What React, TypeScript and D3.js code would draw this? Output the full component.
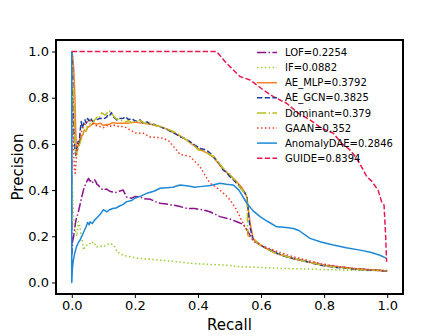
import React, { useEffect, useRef } from "react";
import * as d3 from "d3";

// ---- [recall, precision] points ----
const lofCurve: [number, number][] = [
  [0, 1.0], [0, 0.12], [0.003, 0.18], [0.006, 0.2], [0.008, 0.22], [0.012, 0.26], [0.015, 0.28], [0.02, 0.3],
  [0.025, 0.33], [0.03, 0.36], [0.037, 0.4], [0.045, 0.43], [0.053, 0.451], [0.057, 0.44], [0.06, 0.44],
  [0.064, 0.43], [0.068, 0.436], [0.072, 0.445], [0.075, 0.44], [0.08, 0.425], [0.085, 0.42], [0.09, 0.41],
  [0.1, 0.4], [0.11, 0.405], [0.12, 0.395], [0.13, 0.392], [0.14, 0.39], [0.15, 0.395], [0.163, 0.4],
  [0.17, 0.38], [0.174, 0.37], [0.19, 0.365], [0.2, 0.372], [0.216, 0.371], [0.23, 0.362], [0.25, 0.36],
  [0.265, 0.35], [0.28, 0.343], [0.3, 0.34], [0.32, 0.335], [0.34, 0.33], [0.364, 0.321], [0.39, 0.32],
  [0.417, 0.314], [0.438, 0.306], [0.455, 0.295], [0.47, 0.285], [0.5, 0.275], [0.523, 0.263], [0.545, 0.25],
  [0.565, 0.205], [0.58, 0.18], [0.6, 0.16], [0.65, 0.128], [0.7, 0.104], [0.8, 0.075], [0.9, 0.06], [1.0, 0.05],
];

const ifCurve: [number, number][] = [
  [0, 1.0], [0, 0.5], [0.002, 0.42], [0.004, 0.33], [0.006, 0.28], [0.008, 0.25], [0.011, 0.227], [0.016, 0.2],
  [0.021, 0.263], [0.026, 0.241], [0.03, 0.2], [0.034, 0.176], [0.037, 0.14], [0.042, 0.155], [0.048, 0.162],
  [0.055, 0.17], [0.062, 0.165], [0.068, 0.176], [0.074, 0.165], [0.079, 0.154], [0.09, 0.158], [0.1, 0.154],
  [0.11, 0.162], [0.121, 0.169], [0.132, 0.162], [0.138, 0.15], [0.143, 0.133], [0.15, 0.128], [0.163, 0.118],
  [0.19, 0.11], [0.216, 0.104], [0.25, 0.1], [0.28, 0.097], [0.33, 0.09], [0.385, 0.082], [0.44, 0.078],
  [0.491, 0.075], [0.533, 0.068], [0.6, 0.065], [0.66, 0.061], [0.75, 0.058], [0.871, 0.053], [0.95, 0.052], [1.0, 0.053],
];

const mlpCurve: [number, number][] = [
  [0, 1.0], [0.003, 0.98], [0.006, 0.93], [0.008, 0.87], [0.01, 0.8], [0.012, 0.68], [0.015, 0.56], [0.018, 0.58],
  [0.022, 0.6], [0.026, 0.62], [0.03, 0.63], [0.035, 0.64], [0.04, 0.66], [0.045, 0.655], [0.05, 0.67], [0.06, 0.68],
  [0.07, 0.69], [0.08, 0.685], [0.09, 0.69], [0.1, 0.68], [0.11, 0.684], [0.12, 0.685], [0.13, 0.692], [0.14, 0.69],
  [0.16, 0.69], [0.18, 0.69], [0.2, 0.695], [0.22, 0.69], [0.25, 0.685], [0.28, 0.675], [0.3, 0.665], [0.32, 0.65],
  [0.35, 0.63], [0.38, 0.6], [0.4, 0.58], [0.43, 0.56], [0.45, 0.54], [0.48, 0.49], [0.5, 0.465], [0.52, 0.44],
  [0.54, 0.41], [0.555, 0.37], [0.565, 0.26], [0.575, 0.19], [0.6, 0.16], [0.64, 0.13], [0.7, 0.104], [0.75, 0.088],
  [0.8, 0.073], [0.9, 0.058], [1.0, 0.05],
];

const gcnCurve: [number, number][] = [
  [0, 1.0], [0.002, 0.95], [0.004, 0.79], [0.006, 0.7], [0.008, 0.62], [0.01, 0.574], [0.013, 0.55], [0.016, 0.58],
  [0.02, 0.61], [0.023, 0.59], [0.026, 0.65], [0.03, 0.697], [0.033, 0.67], [0.036, 0.68], [0.042, 0.704],
  [0.046, 0.69], [0.05, 0.71], [0.055, 0.7], [0.06, 0.712], [0.065, 0.698], [0.07, 0.7], [0.08, 0.705],
  [0.09, 0.711], [0.1, 0.708], [0.11, 0.715], [0.115, 0.728], [0.121, 0.725], [0.126, 0.735], [0.13, 0.72],
  [0.136, 0.712], [0.143, 0.704], [0.15, 0.71], [0.163, 0.711], [0.17, 0.718], [0.18, 0.705], [0.19, 0.71],
  [0.2, 0.7], [0.21, 0.697], [0.216, 0.704], [0.225, 0.692], [0.24, 0.695], [0.25, 0.684], [0.26, 0.685],
  [0.27, 0.678], [0.28, 0.675], [0.29, 0.668], [0.3, 0.665], [0.31, 0.656], [0.32, 0.65], [0.333, 0.64],
  [0.343, 0.631], [0.36, 0.622], [0.375, 0.61], [0.39, 0.595], [0.407, 0.58], [0.42, 0.576], [0.43, 0.57],
  [0.44, 0.558], [0.449, 0.545], [0.465, 0.52], [0.48, 0.487], [0.49, 0.478], [0.5, 0.46], [0.51, 0.447],
  [0.523, 0.429], [0.53, 0.42], [0.54, 0.4], [0.548, 0.39], [0.555, 0.371], [0.56, 0.3], [0.565, 0.24],
  [0.575, 0.183], [0.6, 0.16], [0.62, 0.145], [0.639, 0.133], [0.67, 0.115], [0.702, 0.104], [0.75, 0.088],
  [0.787, 0.075], [0.84, 0.065], [0.892, 0.058], [0.95, 0.053], [1.0, 0.05],
];

const dominantCurve: [number, number][] = [
  [0, 1.0], [0.003, 0.78], [0.006, 0.834], [0.008, 0.7], [0.01, 0.6], [0.013, 0.57], [0.015, 0.55], [0.02, 0.58],
  [0.025, 0.6], [0.03, 0.62], [0.035, 0.64], [0.04, 0.66], [0.045, 0.655], [0.05, 0.68], [0.06, 0.69],
  [0.065, 0.685], [0.07, 0.7], [0.08, 0.715], [0.085, 0.71], [0.095, 0.735], [0.1, 0.73], [0.105, 0.725],
  [0.11, 0.73], [0.116, 0.742], [0.121, 0.74], [0.126, 0.73], [0.13, 0.725], [0.14, 0.71], [0.15, 0.705],
  [0.16, 0.7], [0.17, 0.695], [0.18, 0.7], [0.19, 0.692], [0.2, 0.695], [0.21, 0.702], [0.22, 0.7], [0.23, 0.69],
  [0.25, 0.69], [0.265, 0.68], [0.28, 0.675], [0.3, 0.665], [0.31, 0.66], [0.32, 0.655], [0.335, 0.645],
  [0.35, 0.63], [0.365, 0.615], [0.38, 0.6], [0.39, 0.59], [0.4, 0.575], [0.415, 0.57], [0.43, 0.56],
  [0.45, 0.545], [0.465, 0.52], [0.48, 0.495], [0.5, 0.47], [0.51, 0.455], [0.52, 0.435], [0.53, 0.42],
  [0.54, 0.4], [0.553, 0.38], [0.556, 0.335], [0.558, 0.205], [0.57, 0.19], [0.6, 0.16], [0.64, 0.13],
  [0.7, 0.104], [0.75, 0.088], [0.8, 0.073], [0.9, 0.058], [1.0, 0.05],
];

const gaanCurve: [number, number][] = [
  [0, 1.0], [0.003, 0.7], [0.006, 0.55], [0.009, 0.48], [0.011, 0.473], [0.014, 0.53], [0.016, 0.588], [0.02, 0.6],
  [0.026, 0.62], [0.03, 0.65], [0.037, 0.675], [0.045, 0.69], [0.058, 0.704], [0.065, 0.69], [0.075, 0.68],
  [0.09, 0.675], [0.1, 0.67], [0.11, 0.68], [0.12, 0.676], [0.132, 0.682], [0.15, 0.675], [0.163, 0.675],
  [0.174, 0.67], [0.185, 0.66], [0.206, 0.645], [0.225, 0.648], [0.248, 0.63], [0.27, 0.628], [0.29, 0.625],
  [0.31, 0.61], [0.322, 0.59], [0.343, 0.555], [0.36, 0.55], [0.375, 0.545], [0.396, 0.516], [0.407, 0.501],
  [0.42, 0.47], [0.438, 0.43], [0.455, 0.415], [0.47, 0.4], [0.49, 0.375], [0.502, 0.357], [0.52, 0.32],
  [0.533, 0.285], [0.545, 0.25], [0.555, 0.227], [0.565, 0.198], [0.58, 0.175], [0.6, 0.16], [0.65, 0.135],
  [0.702, 0.111], [0.75, 0.095], [0.787, 0.082], [0.85, 0.068], [0.9, 0.06], [1.0, 0.05],
];

const daeCurve: [number, number][] = [
  [0, 1.0], [0, 0], [0.002, 0.06], [0.005, 0.097], [0.01, 0.13], [0.015, 0.155], [0.02, 0.17], [0.026, 0.183],
  [0.035, 0.21], [0.045, 0.24], [0.05, 0.26], [0.055, 0.25], [0.058, 0.263], [0.065, 0.255], [0.072, 0.27],
  [0.08, 0.28], [0.09, 0.295], [0.1, 0.315], [0.111, 0.306], [0.12, 0.315], [0.13, 0.32], [0.14, 0.322],
  [0.15, 0.33], [0.163, 0.338], [0.174, 0.35], [0.19, 0.355], [0.2, 0.365], [0.22, 0.375], [0.238, 0.386],
  [0.26, 0.395], [0.28, 0.408], [0.3, 0.41], [0.32, 0.412], [0.343, 0.422], [0.37, 0.418], [0.39, 0.412],
  [0.407, 0.415], [0.44, 0.42], [0.47, 0.43], [0.49, 0.425], [0.512, 0.422], [0.53, 0.4], [0.555, 0.343],
  [0.575, 0.31], [0.597, 0.285], [0.62, 0.265], [0.65, 0.241], [0.68, 0.238], [0.702, 0.234], [0.72, 0.225],
  [0.755, 0.191], [0.79, 0.175], [0.829, 0.162], [0.87, 0.15], [0.914, 0.14], [0.95, 0.13], [0.977, 0.118],
  [0.998, 0.104],
];

const guideCurve: [number, number][] = [
  [0, 1.0], [0.1, 1.0], [0.2, 1.0], [0.3, 1.0], [0.4, 1.0], [0.459, 1.0], [0.49, 0.95], [0.533, 0.892],
  [0.565, 0.877], [0.607, 0.834], [0.639, 0.805], [0.681, 0.776], [0.718, 0.733], [0.755, 0.704], [0.792, 0.668],
  [0.829, 0.646], [0.855, 0.603], [0.882, 0.574], [0.903, 0.538], [0.924, 0.487], [0.935, 0.458], [0.95, 0.44],
  [0.971, 0.4], [0.982, 0.35], [0.99, 0.335], [0.995, 0.2], [0.998, 0.09],
];

const seriesNames = ["LOF=0.2254", "IF=0.0882", "AE_MLP=0.3792", "AE_GCN=0.3825", "Dominant=0.379", "GAAN=0.352", "AnomalyDAE=0.2846", "GUIDE=0.8394"];
const axisTicks = [0, 0.2, 0.4, 0.6, 0.8, 1.0];

const DASHED = "5.4,2.3";
const DASHDOT = "9.3,2.3,1.5,2.3";
const DOTTED = "1.5,2.4";

const series = [
  { name: seriesNames[0], pts: lofCurve, color: "#8b108b", dash: DASHDOT },
  { name: seriesNames[1], pts: ifCurve, color: "#9acd32", dash: DOTTED },
  { name: seriesNames[2], pts: mlpCurve, color: "#ff7f27", dash: null },
  { name: seriesNames[3], pts: gcnCurve, color: "#1f3c99", dash: DASHED },
  { name: seriesNames[4], pts: dominantCurve, color: "#bcbd22", dash: DASHDOT },
  { name: seriesNames[5], pts: gaanCurve, color: "#f03a24", dash: DOTTED },
  { name: seriesNames[6], pts: daeCurve, color: "#1e88d6", dash: null },
  { name: seriesNames[7], pts: guideCurve, color: "#e8194e", dash: DASHED },
];

const W = 448;
const H = 336;
const margin = { left: 56, right: 45, top: 40, bottom: 42 };
const FONT = "DejaVu Sans, sans-serif";

export default function App() {
  const svgRef = useRef<SVGSVGElement>(null);

  useEffect(() => {
    const svg = d3.select(svgRef.current);
    svg.selectAll("*").remove();

    const x = d3.scaleLinear().domain([-0.05, 1.05]).range([margin.left, W - margin.right]);
    const y = d3.scaleLinear().domain([-0.05, 1.05]).range([H - margin.bottom, margin.top]);

    svg.append("rect").attr("width", W).attr("height", H).attr("fill", "white");

    const line = d3
      .line<[number, number]>()
      .x((d) => x(d[0]))
      .y((d) => y(d[1]));

    const plot = svg.append("g");
    series.forEach((s) => {
      plot
        .append("path")
        .datum(s.pts)
        .attr("fill", "none")
        .attr("stroke", s.color)
        .attr("stroke-width", 1.5)
        .attr("stroke-dasharray", s.dash ?? null)
        .attr("stroke-linejoin", "round")
        .attr("d", line);
    });

    // axes
    const xAxis = d3
      .axisBottom(x)
      .tickValues(axisTicks)
      .tickFormat((d) => d3.format(".1f")(d as number))
      .tickSize(4)
      .tickSizeOuter(0)
      .tickPadding(3);
    const yAxis = d3
      .axisLeft(y)
      .tickValues(axisTicks)
      .tickFormat((d) => d3.format(".1f")(d as number))
      .tickSize(4)
      .tickSizeOuter(0)
      .tickPadding(3);

    const gx = svg.append("g").attr("transform", `translate(0,${H - margin.bottom})`).call(xAxis);
    const gy = svg.append("g").attr("transform", `translate(${margin.left},0)`).call(yAxis);
    [gx, gy].forEach((g) => {
      g.select(".domain").remove();
      g.selectAll(".tick line").attr("stroke", "black").attr("stroke-width", 1);
      g.selectAll(".tick text")
        .attr("fill", "black")
        .style("font-family", FONT)
        .style("font-size", "13px");
    });

    // frame
    svg
      .append("rect")
      .attr("x", margin.left)
      .attr("y", margin.top)
      .attr("width", W - margin.left - margin.right)
      .attr("height", H - margin.top - margin.bottom)
      .attr("fill", "none")
      .attr("stroke", "black")
      .attr("stroke-width", 2);

    svg
      .append("text")
      .attr("x", (margin.left + W - margin.right) / 2)
      .attr("y", 330)
      .attr("text-anchor", "middle")
      .style("font-family", FONT)
      .style("font-size", "15px")
      .text("Recall");

    svg
      .append("text")
      .attr("transform", `translate(22.7,${(margin.top + H - margin.bottom) / 2}) rotate(-90)`)
      .attr("text-anchor", "middle")
      .style("font-family", FONT)
      .style("font-size", "15px")
      .text("Precision");

    // legend (no frame)
    const legend = svg.append("g");
    series.forEach((s, i) => {
      const ly = 52.5 + i * 15.1;
      legend
        .append("line")
        .attr("x1", 257)
        .attr("x2", 277)
        .attr("y1", ly)
        .attr("y2", ly)
        .attr("stroke", s.color)
        .attr("stroke-width", 1.5)
        .attr("stroke-dasharray", s.dash ?? null);
      legend
        .append("text")
        .attr("x", 285)
        .attr("y", ly)
        .attr("dy", "0.36em")
        .style("font-family", FONT)
        .style("font-size", "10px")
        .text(s.name);
    });
  }, []);

  return (
    <svg
      ref={svgRef}
      width={W}
      height={H}
      style={{ position: "absolute", left: 0, top: 0, display: "block" }}
    />
  );
}
